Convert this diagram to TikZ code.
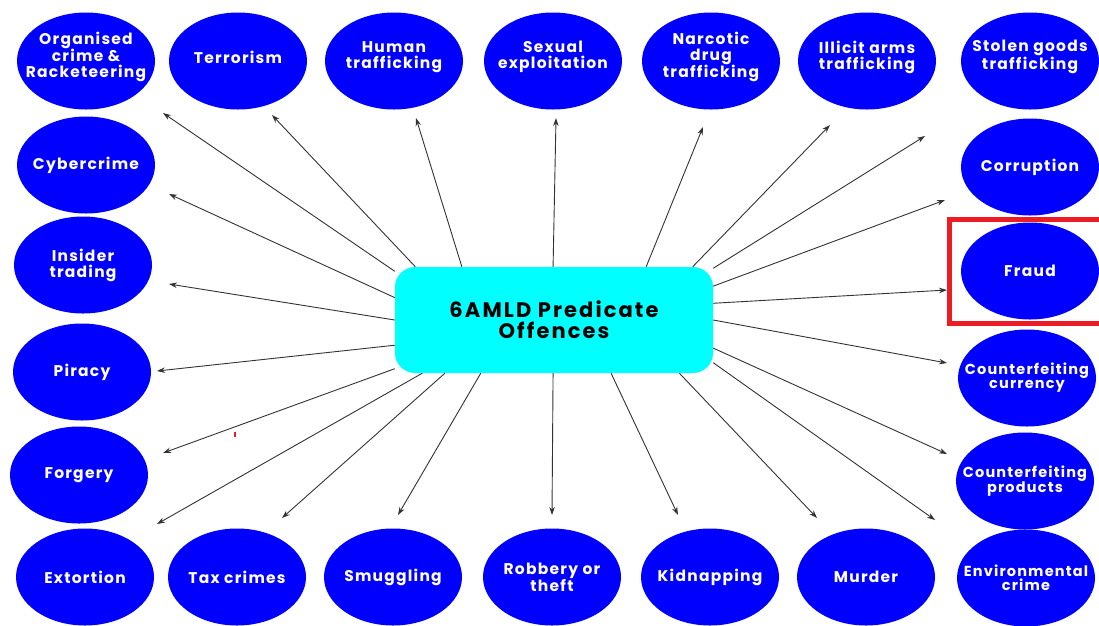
\documentclass[tikz,border=0pt]{standalone}
\usepackage{fontspec}
\newfontfamily\popfont{Poppins}[LetterSpace=8]
\newfontfamily\hubfont{Poppins}[LetterSpace=10]
\usetikzlibrary{arrows.meta,shapes.geometric}
\definecolor{offblue}{HTML}{0000FF}
\definecolor{hubcyan}{HTML}{00FFFF}
\definecolor{markred}{HTML}{ED1C24}
\definecolor{arrowgray}{HTML}{333333}
\begin{document}
\begin{tikzpicture}[x=1pt,y=-1pt,
  offence/.style={ellipse, fill=offblue, draw=none, minimum width=138pt, minimum height=97pt, inner sep=0pt},
  lbl/.style={text=white, align=center, font=\popfont\bfseries\fontsize{15.5}{16}\selectfont},
  lblsmall/.style={text=white, align=center, font=\popfont\bfseries\fontsize{14.5}{14}\selectfont},
  toplbl/.style={lbl, yshift=4pt},
  hub/.style={fill=hubcyan, draw=none, rounded corners=20pt, minimum width=318pt, minimum height=106pt, align=center, font=\hubfont\bfseries\fontsize{21}{21}\selectfont},
  arr/.style={draw=arrowgray, line width=0.9pt, -{Stealth[length=8pt,width=5.5pt]}}
]
\useasboundingbox (0,0) rectangle (1099,625);
\clip (0,0) rectangle (1099,625);
\fill[white] (0,0) rectangle (1099,625);

% top row
\node[offence, label={[toplbl]center:Organised\\crime \&\\Racketeering}] (org) at (86,61) {};
\node[offence, label={[toplbl]center:Terrorism}] (terr) at (238,61) {};
\node[offence, label={[toplbl]center:Human\\trafficking}] (human) at (394,61) {};
\node[offence, label={[toplbl]center:Sexual\\exploitation}] (sex) at (553,61) {};
\node[offence, label={[toplbl]center:Narcotic\\drug\\trafficking}] (narc) at (711,61) {};
\node[offence, label={[toplbl]center:Illicit arms\\trafficking}] (arms) at (867,61) {};
\node[offence, label={[toplbl]center:Stolen goods\\trafficking}] (stolen) at (1030,61) {};
% right column
\node[offence, label={[lbl]center:Corruption}] (corr) at (1030,167) {};
\node[offence, label={[lbl]center:Fraud}] (fraud) at (1030,271) {};
\node[offence, label={[lblsmall]center:Counterfeiting\\currency}] (curr) at (1027,378) {};
\node[offence, label={[lblsmall]center:Counterfeiting\\products}] (prod) at (1025,481) {};
\node[offence, label={[lblsmall]center:Environmental\\crime}] (env) at (1026,578) {};
% bottom row
\node[offence, label={[lbl]center:Murder}] (murder) at (866,577) {};
\node[offence, label={[lbl]center:Kidnapping}] (kid) at (710,577) {};
\node[offence, label={[lbl]center:Robbery or\\theft}] (rob) at (552,577) {};
\node[offence, label={[lbl]center:Smuggling}] (smug) at (393,577) {};
\node[offence, label={[lbl]center:Tax crimes}] (tax) at (237,577) {};
\node[offence, label={[lbl]center:Extortion}] (ext) at (85,577) {};
% left column
\node[offence, label={[lbl]center:Forgery}] (forg) at (79,475) {};
\node[offence, label={[lbl]center:Piracy}] (pir) at (82,372) {};
\node[offence, label={[lbl]center:Insider\\trading}] (ins) at (83,265) {};
\node[offence, label={[lbl]center:Cybercrime}] (cyber) at (86,165) {};

% hub
\node[hub] (c) at (554,320) {6AMLD Predicate\\Offences};

% arrow tips
\coordinate (t1) at (163,113);
\coordinate (t2) at (272,115);
\coordinate (t3) at (416,118);
\coordinate (t4) at (556,118);
\coordinate (t5) at (703,127);
\coordinate (t6) at (830,125);
\coordinate (t7) at (925,136);
\coordinate (t8) at (945,200);
\coordinate (t9) at (947,290);
\coordinate (t10) at (947,363);
\coordinate (t11) at (947,454);
\coordinate (t12) at (935,520);
\coordinate (t13) at (817,518);
\coordinate (t14) at (678,515);
\coordinate (t15) at (552,515);
\coordinate (t16) at (398,515);
\coordinate (t17) at (282,518);
\coordinate (t18) at (157,524);
\coordinate (t19) at (163,453);
\coordinate (t20) at (157,371);
\coordinate (t21) at (169,284);
\coordinate (t22) at (169,194);

\draw[arr] (c.163) -- (t1);
\draw[arr] (c.159.4) -- (t2);
\draw[arr] (c.150.6) -- (t3);
\draw[arr] (c.91) -- (t4);
\draw[arr] (c.30.1) -- (t5);
\draw[arr] (c.21.6) -- (t6);
\draw[arr] (c.18.2) -- (t7);
\draw[arr] (c.12.9) -- (t8);
\draw[arr] (c.6.0) -- (t9);
\draw[arr] (c.-0.7) -- (t10);
\draw[arr] (c.-10.5) -- (t11);
\draw[arr] (c.-15.5) -- (t12);
\draw[arr] (c.-23.3) -- (t13);
\draw[arr] (c.-43.4) -- (t14);
\draw[arr] (c.-91) -- (t15);
\draw[arr] (c.-144.4) -- (t16);
\draw[arr] (c.-154.5) -- (t17);
\draw[arr] (c.-158.6) -- (t18);
\draw[arr] (c.-163) -- (t19);
\draw[arr] (c.-171.1) -- (t20);
\draw[arr] (c.180) -- (t21);
\draw[arr] (c.172.2) -- (t22);

% highlight box around Fraud
\draw[markred, line width=5pt] (949.5,219.5) rectangle (1106,323.5);
% stray mark
\fill[markred] (233.5,432) rectangle (235.5,437);
\end{tikzpicture}
\end{document}
